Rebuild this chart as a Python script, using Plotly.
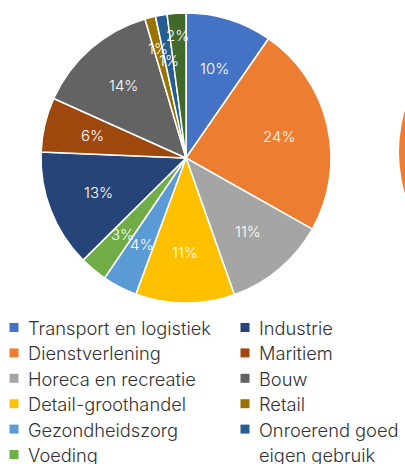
import numpy as np
import plotly.graph_objects as go

labels = ["Transport en logistiek", "Dienstverlening", "Horeca en recreatie",
          "Detail-groothandel", "Gezondheidszorg", "Voeding", "Industrie",
          "Maritiem", "Bouw", "Retail", "Onroerend goed eigen gebruik", "Overig"]
values = [9.7, 23.7, 11.5, 11.1, 3.9, 3.1, 13.2, 6.1, 13.8, 1.2, 1.3, 2.1]
colors = ["#4472C4", "#ED7D31", "#A5A5A5", "#FFC000", "#5B9BD5", "#70AD47",
          "#264478", "#9E480E", "#636363", "#997300", "#255E91", "#43682B"]
# label radius as fraction of pie radius (style)
label_r = [0.65, 0.66, 0.66, 0.65, 0.67, 0.69, 0.65, 0.66, 0.66, 0.78, 0.68, 0.85]

W, H = 405, 464
CX, CY, R = 186, 158, 145  # pie centre/radius in pixels

fig = go.Figure()
fig.add_trace(go.Pie(
    labels=labels, values=values, sort=False, direction="clockwise", rotation=0,
    marker=dict(colors=colors, line=dict(color="white", width=1.5)),
    textinfo="none", hoverinfo="label+percent", showlegend=False,
    domain=dict(x=[(CX - R) / W, (CX + R) / W], y=[(H - CY - R) / H, (H - CY + R) / H]),
))

vals = np.array(values, dtype=float)
frac = vals / vals.sum()
cum = np.cumsum(frac) - frac / 2
annotations = []
for f, mid, rf in zip(frac, cum, label_r):
    ang = 2 * np.pi * mid
    px = CX + rf * R * np.sin(ang)
    py = CY - rf * R * np.cos(ang)
    annotations.append(dict(
        x=px / W, y=1 - py / H, xref="paper", yref="paper", showarrow=False,
        text=f"{round(f * 100):.0f}%",
        font=dict(family="Inter", size=15, color="white", weight=300),
        xanchor="center", yanchor="middle"))

# manual two-column legend (wrapped lines given as separate rows)
shapes = []
legend_lines = [["Transport en logistiek"], ["Dienstverlening"], ["Horeca en recreatie"],
                ["Detail-groothandel"], ["Gezondheidszorg"], ["Voeding"], ["Industrie"],
                ["Maritiem"], ["Bouw"], ["Retail"], ["Onroerend goed", "eigen gebruik"]]
row_y0, row_dy = 327.5, 25.4
row = 0
for i, lines in enumerate(legend_lines):
    if i == 6:
        row = 0
    sx = 14 if i < 6 else 245
    ty = row_y0 + row * row_dy
    shapes.append(dict(type="rect", xref="paper", yref="paper",
                       x0=(sx - 4.5) / W, x1=(sx + 4.5) / W,
                       y0=1 - (ty + 4.5) / H, y1=1 - (ty - 4.5) / H,
                       fillcolor=colors[i], line=dict(width=0)))
    for line in lines:
        ly = row_y0 + row * row_dy
        annotations.append(dict(
            x=(sx + 12) / W, y=1 - (ly - 12.5) / H, xref="paper", yref="paper",
            showarrow=False, text=line, align="left", xanchor="left", yanchor="top",
            font=dict(family="Inter", size=18.3, color="#333333", weight=300)))
        row += 1

# neighbouring chart edge visible at right
shapes.append(dict(type="circle", xref="paper", yref="paper",
                   x0=(544 - 145) / W, x1=(544 + 145) / W,
                   y0=1 - (152 + 145) / H, y1=1 - (152 - 145) / H,
                   fillcolor="#ED7D31", line=dict(width=0), layer="below"))

fig.update_layout(
    width=W, height=H, margin=dict(l=0, r=0, t=0, b=0),
    paper_bgcolor="white", plot_bgcolor="white",
    annotations=annotations, shapes=shapes,
)
fig.write_html("out.html")
